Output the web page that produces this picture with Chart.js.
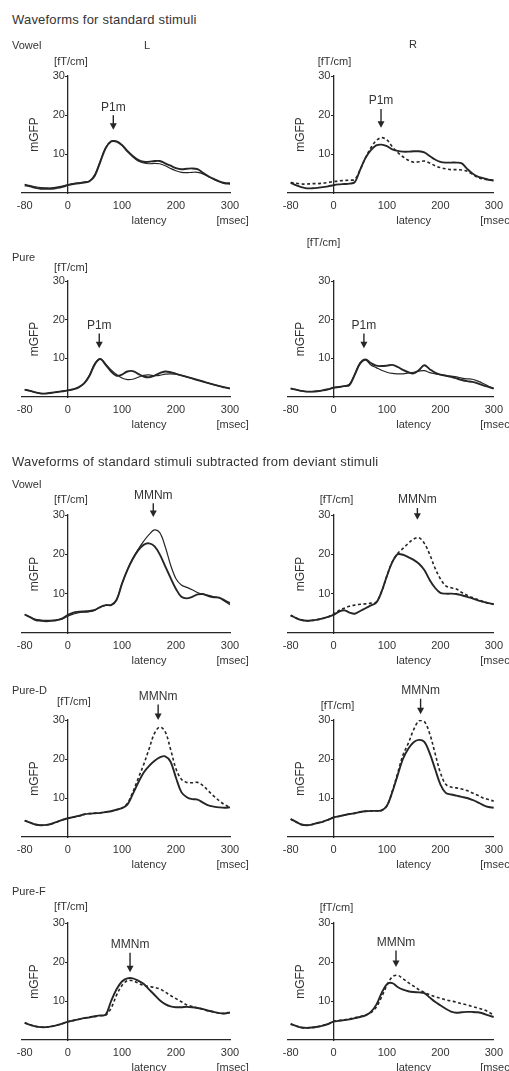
<!DOCTYPE html>
<html>
<head>
<meta charset="utf-8">
<script src="https://cdn.jsdelivr.net/npm/chart.js@4.4.1/dist/chart.umd.min.js"></script>
<style>
  body { margin: 0; background: #fff; width: 509px; height: 1071px; position: relative; overflow: hidden;
         font-family: "Liberation Sans", Arial, sans-serif; color: #333; }
  canvas { position: absolute; }
  .txt { position: absolute; white-space: nowrap; line-height: 1; z-index: 2; }
  .head { font-size: 13px; letter-spacing: 0.2px; }
  .lab { font-size: 11px; }
</style>
</head>
<body>
<div class="txt head" style="left:12px;top:13px">Waveforms for standard stimuli</div>
<div class="txt lab" style="left:12px;top:40px">Vowel</div>
<div class="txt lab" style="left:144px;top:40px">L</div>
<div class="txt lab" style="left:409px;top:39px">R</div>
<div class="txt lab" style="left:12px;top:252px">Pure</div>
<div class="txt head" style="left:12px;top:455px">Waveforms of standard stimuli subtracted from deviant stimuli</div>
<div class="txt lab" style="left:12px;top:479px">Vowel</div>
<div class="txt lab" style="left:12px;top:685px">Pure-D</div>
<div class="txt lab" style="left:12px;top:886px">Pure-F</div>

<script>
// latency axis (ms), sampled every 10 ms
const latency = [-80, -70, -60, -50, -40, -30, -20, -10, 0, 10, 20, 30, 40, 50, 60, 70, 80, 90, 100,
  110, 120, 130, 140, 150, 160, 170, 180, 190, 200, 210, 220, 230, 240, 250, 260, 270, 280, 290, 300];
const xTicks = [-80, 0, 100, 200, 300];
const yTicks = [10, 20, 30];

// standard stimuli, vowel
const vowelStdL_a = [2.0, 1.7, 1.3, 1.1, 1.1, 1.1, 1.3, 1.6, 2.0, 2.3, 2.5, 2.7, 3.0, 4.5, 8.0, 11.5, 13.2, 13.2, 12.3,
  10.8, 9.5, 8.5, 8.0, 8.0, 8.2, 8.2, 7.6, 7.0, 6.4, 6.1, 6.2, 6.3, 6.1, 5.2, 4.3, 3.6, 3.0, 2.6, 2.5];
const vowelStdL_b = [2.2, 1.9, 1.6, 1.4, 1.3, 1.3, 1.5, 1.8, 2.1, 2.4, 2.6, 2.8, 3.1, 4.8, 8.3, 11.7, 13.3, 13.2, 12.2,
  10.6, 9.3, 8.2, 7.7, 7.5, 7.6, 7.5, 7.0, 6.3, 5.7, 5.3, 5.2, 5.3, 5.3, 4.9, 4.2, 3.5, 2.9, 2.4, 2.3];
const vowelStdR_a = [2.6, 2.0, 1.5, 1.2, 1.2, 1.3, 1.5, 1.7, 2.0, 2.2, 2.3, 2.4, 2.8, 6.0, 9.0, 11.0, 12.2, 12.4, 12.0,
  11.2, 10.8, 10.6, 10.6, 10.7, 10.7, 10.4, 9.5, 8.6, 8.0, 7.8, 7.8, 7.8, 7.6, 6.2, 5.0, 4.2, 3.8, 3.4, 3.2];
const vowelStdR_b = [2.7, 2.5, 2.3, 2.3, 2.4, 2.4, 2.5, 2.7, 2.9, 3.1, 3.2, 3.3, 3.5, 6.0, 9.0, 11.6, 13.4, 14.2, 13.6,
  11.9, 10.4, 9.3, 8.4, 7.9, 8.0, 8.2, 7.7, 7.0, 6.5, 6.2, 6.0, 6.0, 5.9, 5.6, 4.8, 4.0, 3.6, 3.4, 3.3];

// standard stimuli, pure tone
const pureStdL_a = [1.9, 1.6, 1.2, 0.9, 0.9, 1.1, 1.3, 1.5, 1.7, 2.0, 2.5, 3.5, 5.5, 8.5, 9.8, 8.3, 6.6, 5.5, 5.8,
  6.6, 6.7, 6.0, 5.3, 5.1, 5.5, 6.2, 6.6, 6.4, 6.0, 5.6, 5.2, 4.8, 4.4, 4.0, 3.6, 3.2, 2.8, 2.5, 2.2];
const pureStdL_b = [1.9, 1.6, 1.2, 0.9, 0.9, 1.1, 1.3, 1.5, 1.7, 2.0, 2.6, 3.6, 5.7, 8.7, 9.9, 8.5, 7.0, 5.8, 4.9,
  4.5, 4.6, 5.1, 5.6, 5.7, 5.5, 5.6, 5.9, 6.0, 5.9, 5.6, 5.2, 4.8, 4.4, 4.0, 3.6, 3.2, 2.8, 2.5, 2.2];
const pureStdR_a = [2.2, 1.9, 1.6, 1.4, 1.4, 1.5, 1.7, 2.0, 2.4, 2.6, 2.8, 3.1, 5.8, 8.7, 9.7, 8.8, 8.1, 8.0, 8.1,
  8.3, 7.8, 7.0, 6.4, 6.1, 7.0, 8.2, 7.2, 6.3, 5.8, 5.5, 5.2, 4.8, 4.4, 4.1, 3.9, 3.5, 3.0, 2.6, 2.2];
const pureStdR_b = [2.2, 1.9, 1.6, 1.4, 1.4, 1.5, 1.7, 2.0, 2.4, 2.6, 2.8, 3.3, 6.0, 8.9, 9.6, 8.3, 7.6, 6.9, 6.4,
  6.1, 6.0, 6.0, 6.2, 6.4, 6.7, 6.8, 6.3, 6.0, 5.8, 5.6, 5.4, 5.2, 4.9, 4.7, 4.6, 4.1, 3.5, 2.8, 2.2];

// deviant minus standard, vowel
const vowelMmnL_a = [4.7, 4.0, 3.3, 3.1, 3.0, 3.1, 3.3, 3.7, 4.6, 5.2, 5.4, 5.5, 5.6, 5.9, 6.6, 7.1, 7.1, 8.4, 12.5,
  16.0, 18.8, 21.0, 22.4, 22.8, 22.1, 20.0, 17.0, 14.0, 11.2, 9.2, 8.8, 9.2, 9.8, 9.9, 9.4, 9.1, 9.0, 8.3, 7.6];
const vowelMmnL_b = [4.7, 4.1, 3.5, 3.3, 3.2, 3.2, 3.3, 3.6, 4.3, 4.8, 5.2, 5.3, 5.4, 5.8, 6.6, 7.0, 7.1, 8.5, 12.6,
  16.1, 19.0, 21.3, 23.3, 25.0, 26.2, 25.5, 22.0, 17.3, 13.8, 12.2, 11.6, 11.0, 10.3, 9.8, 9.6, 9.2, 8.9, 8.1, 7.2];
const vowelMmnR_a = [4.5, 3.8, 3.3, 3.1, 3.2, 3.4, 3.7, 4.1, 4.6, 5.4, 5.8, 5.2, 4.9, 5.6, 6.3, 7.0, 7.7, 10.5, 14.5,
  18.0, 20.0, 19.9, 19.3, 18.6, 17.6, 16.0, 13.5, 11.5, 10.2, 10.0, 10.0, 9.9, 9.6, 9.2, 8.8, 8.3, 7.9, 7.6, 7.3];
const vowelMmnR_b = [4.5, 3.8, 3.3, 3.1, 3.2, 3.4, 3.7, 4.1, 4.8, 5.7, 6.3, 6.8, 7.1, 7.3, 7.4, 7.6, 7.9, 10.5, 14.5,
  18.0, 20.2, 21.5, 22.8, 23.9, 24.2, 22.8, 20.0, 16.5, 13.8, 12.0, 11.5, 11.2, 10.3, 9.6, 9.0, 8.5, 8.0, 7.6, 7.3];

// deviant minus standard, pure tone (duration)
const pureDMmnL_a = [4.2, 3.7, 3.2, 3.0, 3.1, 3.4, 3.9, 4.4, 4.8, 5.1, 5.4, 5.8, 6.0, 6.1, 6.2, 6.4, 6.6, 7.0, 7.4,
  8.3, 11.0, 13.9, 16.5, 18.2, 19.5, 20.4, 20.7, 19.3, 15.2, 11.5, 10.2, 9.7, 9.6, 8.8, 8.1, 7.8, 7.6, 7.5, 7.6];
const pureDMmnL_b = [4.2, 3.7, 3.2, 3.0, 3.1, 3.4, 3.9, 4.4, 4.8, 5.1, 5.4, 5.8, 6.0, 6.1, 6.2, 6.4, 6.6, 7.0, 7.4,
  8.6, 11.5, 15.0, 18.5, 22.5, 26.5, 28.2, 27.0, 22.5, 17.5, 14.8, 14.0, 13.9, 14.0, 13.2, 11.8, 10.5, 9.3, 8.3, 7.6];
const pureDMmnR_a = [4.6, 3.9, 3.2, 3.0, 3.2, 3.6, 3.9, 4.4, 5.0, 5.3, 5.6, 5.9, 6.1, 6.4, 6.6, 6.7, 6.7, 6.8, 8.0,
  11.5, 15.8, 20.0, 22.6, 24.3, 24.9, 24.4, 21.5, 17.5, 13.5, 11.3, 10.9, 10.6, 10.3, 10.0, 9.5, 8.9, 8.2, 7.7, 7.5];
const pureDMmnR_b = [4.6, 3.9, 3.2, 3.0, 3.2, 3.6, 3.9, 4.4, 5.0, 5.3, 5.6, 5.9, 6.1, 6.4, 6.6, 6.7, 6.7, 6.8, 8.0,
  11.7, 16.3, 21.0, 24.0, 27.5, 29.8, 29.6, 26.5, 21.5, 16.5, 13.5, 12.8, 12.6, 12.3, 11.9, 11.3, 10.7, 10.0, 9.6, 9.2];

// deviant minus standard, pure tone (frequency)
const pureFMmnL_a = [4.4, 3.9, 3.5, 3.3, 3.3, 3.5, 3.8, 4.2, 4.7, 5.0, 5.3, 5.6, 5.8, 6.1, 6.3, 6.5, 10.0, 13.0, 15.0,
  15.8, 15.8, 15.2, 14.4, 13.0, 11.6, 10.2, 9.2, 8.6, 8.4, 8.4, 8.5, 8.4, 8.2, 7.9, 7.5, 7.2, 6.9, 6.8, 7.1];
const pureFMmnL_b = [4.4, 3.9, 3.5, 3.3, 3.3, 3.5, 3.8, 4.2, 4.7, 5.0, 5.3, 5.6, 5.8, 6.0, 6.2, 6.4, 8.2, 11.5, 14.0,
  15.2, 15.2, 14.6, 14.0, 13.7, 13.5, 13.1, 12.3, 11.4, 10.6, 9.8, 9.0, 8.6, 8.2, 7.9, 7.5, 7.2, 6.9, 6.8, 7.0];
const pureFMmnR_a = [4.1, 3.6, 3.2, 3.1, 3.2, 3.4, 3.7, 4.1, 4.7, 4.9, 5.1, 5.3, 5.6, 5.9, 6.3, 7.2, 9.0, 12.0, 14.3,
  14.6, 13.6, 12.9, 12.5, 12.3, 12.2, 12.0, 10.9, 9.8, 8.9, 8.0, 7.3, 7.0, 7.1, 7.2, 7.2, 7.1, 6.8, 6.3, 5.9];
const pureFMmnR_b = [4.1, 3.6, 3.2, 3.1, 3.2, 3.4, 3.7, 4.1, 4.8, 5.0, 5.2, 5.4, 5.7, 6.0, 6.4, 7.0, 8.4, 11.0, 14.0,
  16.2, 16.6, 15.7, 14.7, 13.8, 12.9, 12.2, 11.6, 11.1, 10.7, 10.3, 10.0, 9.7, 9.3, 9.0, 8.6, 8.2, 7.8, 7.2, 6.3];

// peak markers, one per panel (row by row, L then R)
const peakNames = ['P1m', 'P1m', 'P1m', 'P1m', 'MMNm', 'MMNm', 'MMNm', 'MMNm', 'MMNm', 'MMNm'];
const peakLatency = [84, 89, 58, 57, 158, 157, 167, 163, 115, 117];
const peakTextLevel = [22, 23.6, 18.5, 18.5, 35, 33.8, 36, 37.5, 24.4, 25];
const peakTipLevel = [16.2, 16.7, 12.6, 12.6, 29.5, 28.8, 30, 31.5, 17.4, 18.7];

const seriesA = [vowelStdL_a, vowelStdR_a, pureStdL_a, pureStdR_a, vowelMmnL_a, vowelMmnR_a,
  pureDMmnL_a, pureDMmnR_a, pureFMmnL_a, pureFMmnR_a];
const seriesB = [vowelStdL_b, vowelStdR_b, pureStdL_b, pureStdR_b, vowelMmnL_b, vowelMmnR_b,
  pureDMmnL_b, pureDMmnR_b, pureFMmnL_b, pureFMmnR_b];
const dashedB = [false, true, false, false, false, true, true, true, true, true];

// layout of the panels
const rowTop = [76, 281, 515, 720, 923];
const rowBottom = [193, 397, 633, 837, 1040];
const cols = [
  { left: 0, width: 254, padL: 22, padR: 24 },
  { left: 258, width: 251, padL: 30, padR: 14 }
];
const unitOffset = [[3, -14], [1, -14], [3, -13], [-10, -38], [3, -15], [3, -15], [6, -18], [4, -14], [3, -16], [3, -15]];

const INK = '#262626';
const TXT = '#333';
const FONT = '"Liberation Sans", Arial, sans-serif';

const panelText = {
  id: 'panelText',
  afterDraw(chart, args, opts) {
    const ctx = chart.ctx;
    const xs = chart.scales.x, ys = chart.scales.y;
    const area = chart.chartArea;
    const x0 = xs.getPixelForValue(0);
    ctx.save();
    ctx.fillStyle = TXT;
    ctx.textAlign = 'center';
    ctx.textBaseline = 'middle';
    ctx.font = '11px ' + FONT;
    ctx.fillText('[fT/cm]', x0 + opts.unit[0], area.top + opts.unit[1]);
    ctx.fillText('latency', xs.getPixelForValue(150), area.bottom + 28);
    ctx.fillText('[msec]', xs.getPixelForValue(305), area.bottom + 28);
    ctx.save();
    ctx.translate(x0 - 33, ys.getPixelForValue(15));
    ctx.rotate(-Math.PI / 2);
    ctx.font = '12px ' + FONT;
    ctx.fillText('mGFP', 0, 0);
    ctx.restore();
    // peak name and arrow
    const px = xs.getPixelForValue(opts.peakAt);
    const ty = ys.getPixelForValue(opts.textLevel);
    const tip = ys.getPixelForValue(opts.tipLevel);
    ctx.font = '12px ' + FONT;
    ctx.fillText(opts.name, px, ty);
    ctx.strokeStyle = INK;
    ctx.fillStyle = INK;
    ctx.lineWidth = 1.4;
    ctx.beginPath();
    ctx.moveTo(px, ty + 8);
    ctx.lineTo(px, tip - 4);
    ctx.stroke();
    ctx.beginPath();
    ctx.moveTo(px - 3.5, tip - 6.5);
    ctx.lineTo(px + 3.5, tip - 6.5);
    ctx.lineTo(px, tip);
    ctx.closePath();
    ctx.fill();
    ctx.restore();
  }
};

function makePanel(i) {
  const row = Math.floor(i / 2), col = cols[i % 2];
  const padT = 48, padB = 10, axisH = 24;
  const canvas = document.createElement('canvas');
  canvas.width = col.width;
  canvas.height = rowBottom[row] - rowTop[row] + padT + padB + axisH;
  canvas.style.left = col.left + 'px';
  canvas.style.top = (rowTop[row] - padT) + 'px';
  document.body.appendChild(canvas);

  const pts = arr => latency.map((x, k) => ({ x: x, y: arr[k] }));
  new Chart(canvas.getContext('2d'), {
    type: 'line',
    data: {
      datasets: [
        { data: pts(seriesA[i]), borderColor: INK, borderWidth: 1.9, pointRadius: 0, tension: 0.35, fill: false },
        { data: pts(seriesB[i]), borderColor: INK, borderWidth: dashedB[i] ? 1.6 : 1.2,
          borderDash: dashedB[i] ? [3, 2.5] : [], pointRadius: 0, tension: 0.35, fill: false }
      ]
    },
    options: {
      responsive: false,
      animation: false,
      events: [],
      layout: { padding: { left: col.padL, right: col.padR, top: padT, bottom: padB } },
      scales: {
        x: {
          type: 'linear', min: -85, max: 300,
          afterBuildTicks: s => { s.ticks = xTicks.map(v => ({ value: v })); },
          afterFit: s => { s.height = axisH; },
          ticks: { color: TXT, font: { size: 11, family: FONT }, padding: 6, maxRotation: 0, autoSkip: false },
          grid: { display: false, drawTicks: false },
          border: { display: true, color: INK, width: 1.3 }
        },
        y: {
          type: 'linear', min: 0, max: 30, position: { x: 0 },
          afterBuildTicks: s => { s.ticks = yTicks.map(v => ({ value: v })); },
          ticks: { color: TXT, font: { size: 11, family: FONT }, padding: 3, callback: v => v + ' ' },
          grid: { display: true, drawOnChartArea: false, drawTicks: true, tickLength: 2, color: INK },
          border: { display: true, color: INK, width: 1.3 }
        }
      },
      plugins: {
        legend: { display: false },
        tooltip: { enabled: false },
        panelText: {
          name: peakNames[i], peakAt: peakLatency[i], textLevel: peakTextLevel[i],
          tipLevel: peakTipLevel[i], unit: unitOffset[i]
        }
      }
    },
    plugins: [panelText]
  });
}

for (let i = 0; i < 10; i++) makePanel(i);
</script>
</body>
</html>
